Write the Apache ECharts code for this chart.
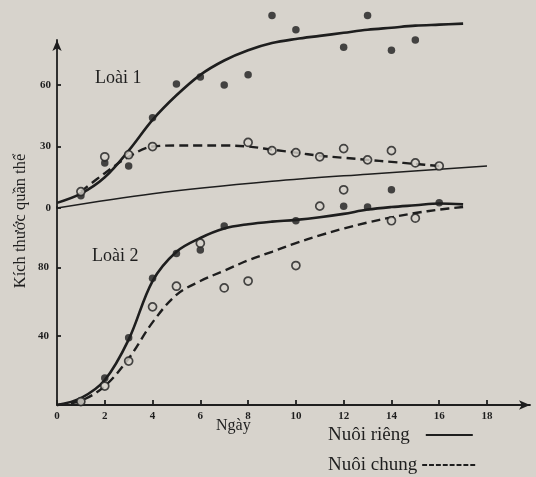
<!DOCTYPE html>
<html>
<head>
<meta charset="utf-8">
<script src="https://cdn.jsdelivr.net/npm/echarts@6/dist/echarts.min.js"></script>
<style>html,body{margin:0;padding:0;background:#d7d3cc;}#c{width:536px;height:477px;}</style>
</head>
<body>
<div id="c"></div>
<script>
// ---- Data ----
const curveDays = [0,1,2,3,4,5,6,7,8,9,10,11,12,13,14,15,16,17];
const xTicks = [0,2,4,6,8,10,12,14,16,18];
const y1Ticks = [0,30,60];
const y2Ticks = [40,80];

// Loài 1 (upper panel)
const loai1RiengCurve = [2.5,7,15,28,43,55,65,72,77,80.5,82.5,84,85.5,87,88,89,89.5,90];
const loai1ChungDays = [1,2,3,4,5,6,7,8,9,10,11,12,13,14,15,16];
const loai1ChungCurve = [8,17,25,30,30.5,30.5,30.5,30,28.5,27,25.5,24.5,23.5,22.5,21.5,20.5];
const loai1RiengObsDays = [1,2,3,4,5,6,7,8,9,10,12,13,14,15];
const loai1RiengObs = [6,22,20.5,44,60.5,64,60,65,94,87,78.5,94,77,82];
const loai1ChungObsDays = [1,2,3,4,8,9,10,11,12,13,14,15,16];
const loai1ChungObs = [8,25,26,30,32,28,27,25,29,23.5,28,22,20.5];
const baseLineDays = [0,4,9,13,18];
const baseLineVals = [0,7,13,16.5,20.5];

// Loài 2 (lower panel)
const loai2RiengCurve = [0,4,14.5,38,72,89,97,102.5,105,106.5,107.5,109,111,113.5,115,116,117,116.5];
const loai2ChungCurve = [0,2.5,11,27,48,64,72,78,84,89,94,98.5,102.5,106,109,111.5,113.5,115];
const loai2RiengObsDays = [1,2,3,4,5,6,7,10,12,13,14,16];
const loai2RiengObs = [2,15.7,39,73.6,88,90,104,107,115.5,115,125,117.5];
const loai2ChungObsDays = [1,2,3,4,5,6,7,8,10,11,12,14,15];
const loai2ChungObs = [2,11,25.5,57,69,94,68,72,81,115.5,125,107,108.5];

const zip = (xs, ys) => xs.map((x, i) => [x, ys[i]]);

const INK = '#1e1e1e';
const BG = '#d7d3cc';
const SERIF = '"Liberation Serif", "DejaVu Serif", serif';

const chart = echarts.init(document.getElementById('c'), null, {renderer: 'canvas'});

function lineSeries(name, data, xi, yi, width, type) {
  return {
    name: name, type: 'line', xAxisIndex: xi, yAxisIndex: yi,
    data: data, smooth: 0.35, symbol: 'none', clip: false,
    lineStyle: {color: INK, width: width, type: type || 'solid'},
    itemStyle: {color: INK}, z: 3
  };
}
function dotSeries(name, data, xi, yi) {
  return {
    name: name, type: 'scatter', xAxisIndex: xi, yAxisIndex: yi, data: data,
    symbol: 'circle', symbolSize: 7.5, clip: false,
    itemStyle: {color: INK}, z: 5
  };
}
function ringSeries(name, data, xi, yi) {
  return {
    name: name, type: 'scatter', xAxisIndex: xi, yAxisIndex: yi, data: data,
    symbol: 'circle', symbolSize: 8, clip: false,
    itemStyle: {color: BG, borderColor: INK, borderWidth: 1.7}, z: 6
  };
}

// legend icons: a solid stroke and a short-dash stroke
let dashPath = 'path://';
for (let x = 0; x < 53; x += 7) dashPath += 'M' + x + ',0h5v2h-5z';
const solidPath = 'path://M0,0h47v2h-47z';

const axisLineStyle = {color: INK, width: 1.8};
const labelStyle = {color: INK, fontFamily: SERIF, fontSize: 11, fontWeight: 'bold'};

function legendBox(name, icon, top, w, gapRight) {
  return {
    data: [{name: name, icon: icon}],
    orient: 'horizontal', left: 328, top: top, align: 'right', padding: 0,
    itemWidth: w, itemHeight: 2, selectedMode: false, symbolKeepAspect: false,
    itemStyle: {color: INK, borderWidth: 0},
    textStyle: {color: INK, fontFamily: SERIF, fontSize: 19, lineHeight: 20, padding: [0, gapRight, 0, 0]}
  };
}

const option = {
  animation: false,
  backgroundColor: BG,
  grid: [
    {left: 57, right: 6, top: 40, height: 168},
    {left: 57, right: 6, top: 207, height: 198}
  ],
  xAxis: [
    {gridIndex: 0, type: 'value', min: 0, max: 19.8, show: false},
    {gridIndex: 1, type: 'value', min: 0, max: 19.8,
      axisLine: {show: true, onZero: false, symbol: ['none', 'arrow'], symbolSize: [7, 11], lineStyle: axisLineStyle},
      axisTick: {show: true, inside: true, length: 5, customValues: xTicks, lineStyle: axisLineStyle},
      axisLabel: Object.assign({customValues: xTicks, margin: 6}, labelStyle),
      splitLine: {show: false}}
  ],
  yAxis: [
    {gridIndex: 0, type: 'value', min: 0, max: 82,
      axisLine: {show: true, onZero: false, symbol: ['none', 'arrow'], symbolSize: [7, 11], lineStyle: axisLineStyle},
      axisTick: {show: true, inside: true, length: 4, customValues: y1Ticks, lineStyle: axisLineStyle},
      axisLabel: Object.assign({customValues: y1Ticks, margin: 6}, labelStyle),
      splitLine: {show: false}},
    {gridIndex: 1, type: 'value', min: 0, max: 115,
      axisLine: {show: true, onZero: false, lineStyle: axisLineStyle},
      axisTick: {show: true, inside: true, length: 4, customValues: y2Ticks, lineStyle: axisLineStyle},
      axisLabel: Object.assign({customValues: y2Ticks, margin: 8}, labelStyle),
      splitLine: {show: false}}
  ],
  legend: [
    legendBox('Nuôi riêng', solidPath, 425, 47, 11),
    legendBox('Nuôi chung', dashPath, 455, 53, 0)
  ],
  graphic: [
    {type: 'text', left: 95, top: 69, style: {text: 'Loài 1', fill: INK, font: '18px ' + SERIF}},
    {type: 'text', left: 92, top: 247, style: {text: 'Loài 2', fill: INK, font: '18px ' + SERIF}},
    {type: 'text', left: 216, top: 418, style: {text: 'Ngày', fill: INK, font: '16px ' + SERIF}},
    {type: 'text', x: 21, y: 221, rotation: Math.PI / 2,
      style: {text: 'Kích thước quần thể', fill: INK, font: '16.5px ' + SERIF, align: 'center', verticalAlign: 'middle'}}
  ],
  series: [
    lineSeries('Đường nền', zip(baseLineDays, baseLineVals), 0, 0, 1.5),
    lineSeries('Nuôi riêng', zip(curveDays, loai1RiengCurve), 0, 0, 2.6),
    lineSeries('Nuôi chung', zip(loai1ChungDays, loai1ChungCurve), 0, 0, 2.4, [9, 5]),
    dotSeries('Loài 1 – nuôi riêng', zip(loai1RiengObsDays, loai1RiengObs), 0, 0),
    ringSeries('Loài 1 – nuôi chung', zip(loai1ChungObsDays, loai1ChungObs), 0, 0),
    lineSeries('Nuôi riêng', zip(curveDays, loai2RiengCurve), 1, 1, 2.6),
    lineSeries('Nuôi chung', zip(curveDays, loai2ChungCurve), 1, 1, 2.4, [9, 5]),
    dotSeries('Loài 2 – nuôi riêng', zip(loai2RiengObsDays, loai2RiengObs), 1, 1),
    ringSeries('Loài 2 – nuôi chung', zip(loai2ChungObsDays, loai2ChungObs), 1, 1)
  ]
};
chart.setOption(option);
</script>
</body>
</html>
